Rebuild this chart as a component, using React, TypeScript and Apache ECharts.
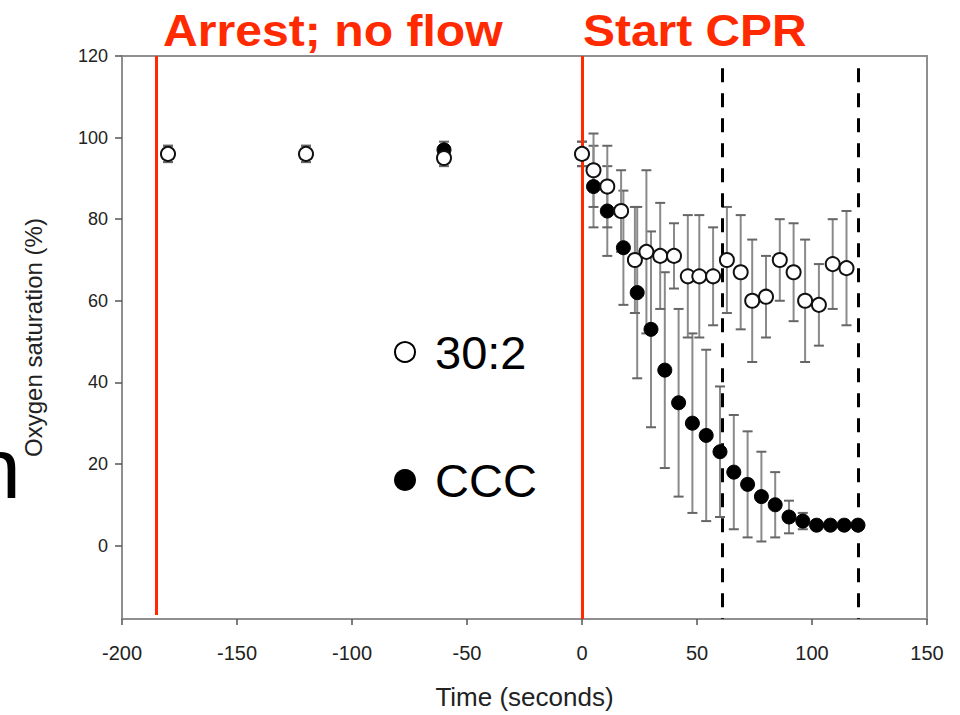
import React, { useEffect, useRef } from "react";
import * as echarts from "echarts";

// Time (s) and oxygen saturation (%), 30:2 group (open circles)
const openTime = [-180, -120, -60, 0, 5, 11, 17, 23, 28, 34, 40, 46, 51, 57, 63, 69, 74, 80, 86, 92, 97, 103, 109, 115];
const openSat = [96, 96, 95, 96, 92, 88, 82, 70, 72, 71, 71, 66, 66, 66, 70, 67, 60, 61, 70, 67, 60, 59, 69, 68];
const openErr = [2, 2, 2, 3, 9, 10, 10, 13, 20, 13, 8, 15, 15, 12, 13, 14, 15, 10, 10, 12, 15, 10, 11, 14];

// CCC group (filled circles)
const cccTime = [-180, -120, -60, 0, 5, 11, 18, 24, 30, 36, 42, 48, 54, 60, 66, 72, 78, 84, 90, 96, 102, 108, 114, 120];
const cccSat = [96, 96, 97, 96, 88, 82, 73, 62, 53, 43, 35, 30, 27, 23, 18, 15, 12, 10, 7, 6, 5, 5, 5, 5];
const cccErr = [2, 2, 2, 3, 10, 11, 14, 21, 24, 24, 23, 22, 21, 16, 14, 13, 11, 8, 4, 2, 1, 1, 1, 1];

const yTickValues = [0, 20, 40, 60, 80, 100, 120];
const arrestTime = -185;
const cprTime = 0;
const dashedTimes = [61, 120];

const RED = "#ff2a00";
const FONT = "Liberation Sans, Arial, Helvetica, sans-serif";

function errorBars(xs: number[], ys: number[], es: number[]) {
  return xs.map((x, i) => [x, ys[i], es[i]]);
}

const renderErr = (params: any, api: any) => {
  const x = api.value(0);
  const y = api.value(1);
  const e = api.value(2);
  const top = api.coord([x, y + e]);
  const bot = api.coord([x, y - e]);
  const w = 5;
  const style = { stroke: "#8a8a8a", lineWidth: 2 };
  const capStyle = { stroke: "#666", lineWidth: 2 };
  return {
    type: "group",
    children: [
      { type: "line", shape: { x1: top[0], y1: top[1], x2: bot[0], y2: bot[1] }, style },
      { type: "line", shape: { x1: top[0] - w, y1: top[1], x2: top[0] + w, y2: top[1] }, style: capStyle },
      { type: "line", shape: { x1: bot[0] - w, y1: bot[1], x2: bot[0] + w, y2: bot[1] }, style: capStyle },
    ],
  };
};

export default function App() {
  const ref = useRef<HTMLDivElement>(null);
  useEffect(() => {
    if (!ref.current) return;
    const chart = echarts.init(ref.current, undefined, { renderer: "svg" });
    const option: any = {
      animation: false,
      backgroundColor: "#ffffff",
      grid: {
        left: 122,
        right: 33,
        top: 56,
        bottom: 95,
        show: true,
        borderColor: "#8f8f8f",
        borderWidth: 2,
        backgroundColor: "transparent",
      },
      xAxis: {
        type: "value",
        min: -200,
        max: 150,
        interval: 50,
        splitLine: { show: false },
        axisLine: { show: true, onZero: false, lineStyle: { color: "#8f8f8f", width: 2 } },
        axisTick: { show: true, inside: false, length: 6, lineStyle: { color: "#555", width: 1.5 } },
        axisLabel: { color: "#222", fontSize: 20, fontFamily: FONT, margin: 24 },
        name: "Time (seconds)",
        nameLocation: "middle",
        nameGap: 65,
        nameTextStyle: { color: "#222", fontSize: 26, fontFamily: FONT },
      },
      yAxis: {
        type: "value",
        min: -18,
        max: 120,
        splitLine: { show: false },
        axisLine: { show: true, onZero: false, lineStyle: { color: "#8f8f8f", width: 2 } },
        axisTick: {
          show: true,
          inside: false,
          length: 7,
          customValues: yTickValues,
          lineStyle: { color: "#555", width: 1.5 },
        },
        axisLabel: {
          color: "#222",
          fontSize: 18,
          fontFamily: FONT,
          margin: 14,
          customValues: yTickValues,
        },
        name: "Oxygen saturation (%)",
        nameLocation: "middle",
        nameGap: 77,
        nameTextStyle: { color: "#222", fontSize: 24, fontFamily: FONT },
      },
      series: [
        {
          type: "custom",
          name: "ccc-err",
          renderItem: renderErr,
          data: errorBars(cccTime, cccSat, cccErr),
          encode: { x: 0, y: 1 },
          z: 2,
          silent: true,
        },
        {
          type: "custom",
          name: "open-err",
          renderItem: renderErr,
          data: errorBars(openTime, openSat, openErr),
          encode: { x: 0, y: 1 },
          z: 2,
          silent: true,
        },
        {
          type: "scatter",
          name: "CCC",
          data: cccTime.map((t, i) => [t, cccSat[i]]),
          symbol: "circle",
          symbolSize: 14,
          itemStyle: { color: "#000", borderColor: "#000", borderWidth: 1, opacity: 1 },
          z: 4,
          markLine: {
            silent: true,
            symbol: "none",
            label: { show: false },
            data: [
              [
                { coord: [arrestTime, 120] },
                { coord: [arrestTime, -17] },
              ],
              [
                { coord: [cprTime, 120] },
                { coord: [cprTime, -18] },
              ],
            ],
            lineStyle: { color: RED, width: 3, type: "solid", opacity: 1 },
          },
        },
        {
          type: "scatter",
          name: "30:2",
          data: openTime.map((t, i) => [t, openSat[i]]),
          symbol: "circle",
          symbolSize: 14,
          itemStyle: { color: "#fff", borderColor: "#111", borderWidth: 2, opacity: 1 },
          z: 5,
          markLine: {
            silent: true,
            symbol: "none",
            label: { show: false },
            data: dashedTimes.map((t) => [
              { coord: [t, 117] },
              { coord: [t, -18] },
            ]),
            lineStyle: { color: "#000", width: 3, type: [14, 11], opacity: 1 },
          },
        },
      ],
      graphic: [
        {
          type: "text",
          x: 163,
          y: 31,
          scaleX: 1.07,
          style: { text: "Arrest; no flow", fill: RED, font: `bold 45px ${FONT}`, verticalAlign: "middle", align: "left" },
        },
        {
          type: "text",
          x: 583,
          y: 31,
          scaleX: 1.065,
          style: { text: "Start CPR", fill: RED, font: `bold 45px ${FONT}`, verticalAlign: "middle", align: "left" },
        },
        {
          type: "circle",
          shape: { cx: 405, cy: 352, r: 10 },
          style: { fill: "#fff", stroke: "#000", lineWidth: 2 },
        },
        {
          type: "circle",
          shape: { cx: 405, cy: 480, r: 11 },
          style: { fill: "#000" },
        },
        {
          type: "text",
          x: 435,
          y: 352,
          style: { text: "30:2", fill: "#000", font: `47px ${FONT}`, verticalAlign: "middle", align: "left" },
        },
        {
          type: "text",
          x: 435,
          y: 480,
          style: { text: "CCC", fill: "#000", font: `47px ${FONT}`, verticalAlign: "middle", align: "left" },
        },
        {
          type: "text",
          x: -27,
          y: 468,
          style: { text: "n", fill: "#000", font: `86px ${FONT}`, verticalAlign: "middle", align: "left" },
        },
      ],
    };
    chart.setOption(option);
    return () => chart.dispose();
  }, []);
  return (
    <div
      ref={ref}
      style={{ position: "fixed", left: 0, top: 0, width: 960, height: 715, background: "#fff" }}
    />
  );
}
